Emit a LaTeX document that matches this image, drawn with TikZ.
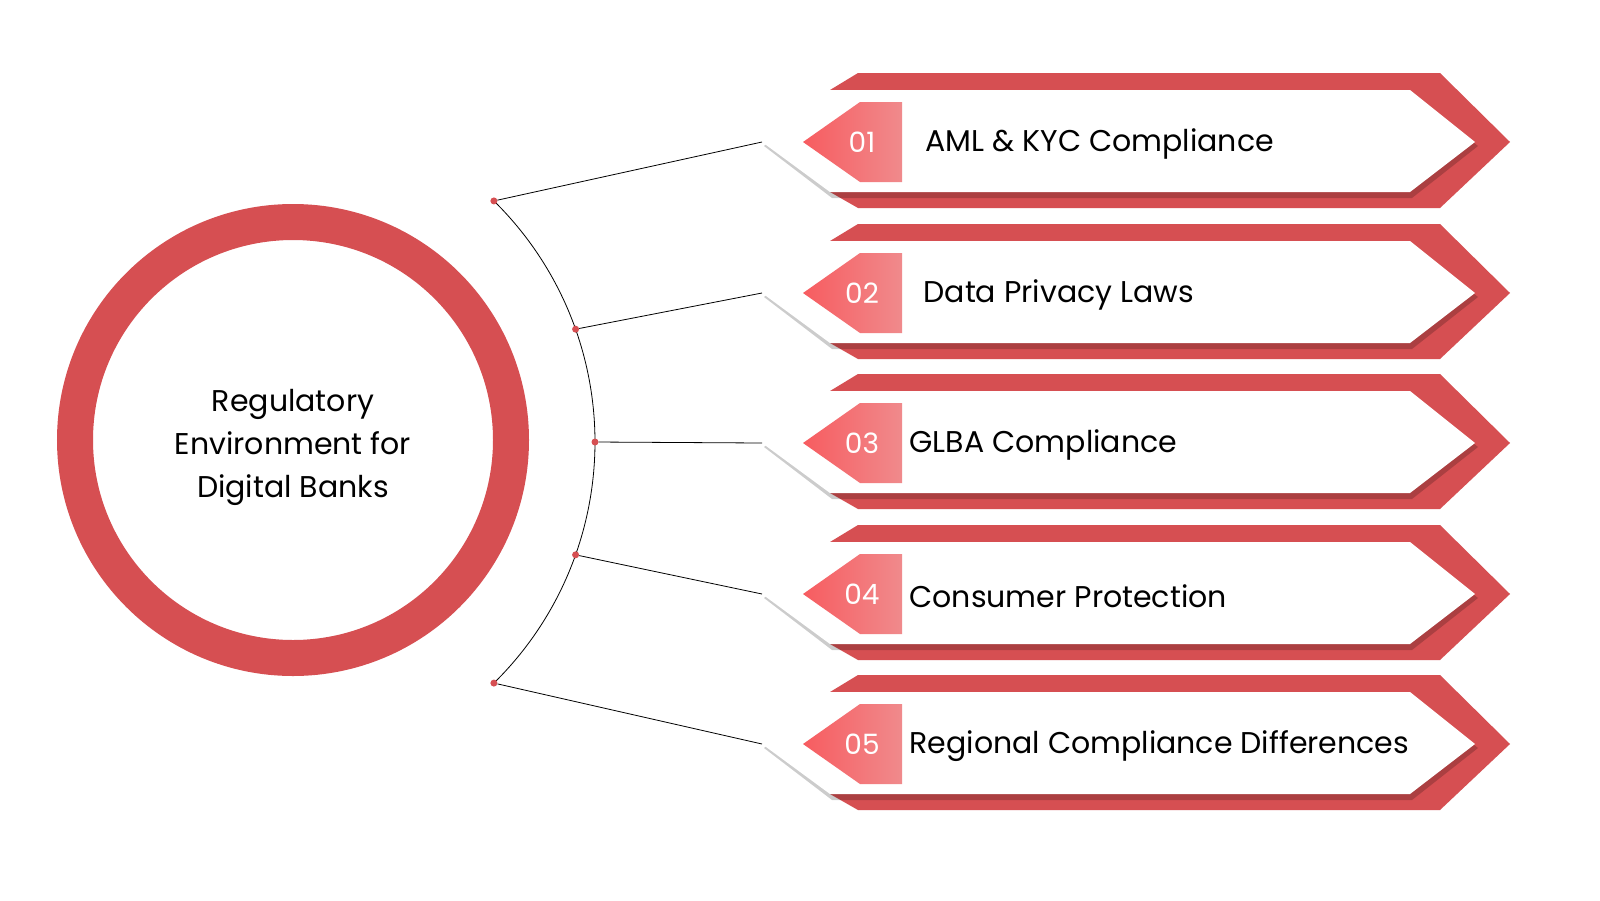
\documentclass[tikz,border=0pt]{standalone}
\usepackage{fontspec}
\setmainfont{Poppins}
\usetikzlibrary{positioning,calc}
\definecolor{ringred}{HTML}{D64F52}
\definecolor{tagred}{HTML}{F75C60}
\definecolor{taglight}{HTML}{F08A8C}
\begin{document}
\begin{tikzpicture}[x=1pt,y=-1pt]

	\tikzstyle{dot}=[circle,fill=ringred,inner sep=0pt,minimum size=7pt]
	\tikzstyle{label}=[anchor=west,font=\fontsize{30}{34}\selectfont,text=black]
	\tikzstyle{num}=[font=\fontsize{28}{32}\selectfont,text=white]

	\useasboundingbox[fill=white] (0,0) rectangle (1600,900);

	% ring with title
	\draw[ringred,line width=36pt] (293,440) circle (218);
	\node[align=center,font=\fontsize{30}{43}\selectfont] (title) at (293,447)
		{Regulatory\\Environment for\\Digital Banks};

	% arc through the dots
	\draw[black,line width=0.8pt] (257,442) ++(45.5:338) arc (45.5:-45.5:338);

	\foreach \i/\y/\a/\txt/\tx in {1/142/-45.5/AML \& KYC Compliance/928,
			2/293/-19.5/Data Privacy Laws/926,
			3/443/0/GLBA Compliance/912,
			4/594/19.5/Consumer Protection/912,
			5/744/45.5/Regional Compliance Differences/912} {
		% red back plate
		\fill[ringred] (858,\y-69) -- (1440,\y-69) -- (1510,\y) -- (1440,\y+66)
			-- (858,\y+66) -- (830,\y+50) -- (830,\y-52) -- cycle;
		% shadow and white front plate
		\fill[black,opacity=0.2] (764,\y+4) -- (832,\y-48) -- (1412,\y-48) -- (1478,\y+4)
			-- (1412,\y+56) -- (832,\y+56) -- cycle;
		\fill[white]
			(762,\y) -- (830,\y-52) -- (1410,\y-52) -- (1475,\y)
			-- (1410,\y+50) -- (830,\y+50) -- cycle;
		% number tag
		\shade[left color=tagred,right color=taglight]
			(803,\y) -- (860,\y-40) -- (902,\y-40) -- (902,\y+40) -- (860,\y+40) -- cycle;
		\node[num] (n\i) at (862,\y) {0\i};
		\node[label] (t\i) at (\tx-6,\y+2) {\txt};
		\coordinate (p\i) at (762,\y);
		\node[dot] (d\i) at ($(257,442)+(\a:338)$) {};
		\draw[black,line width=0.8pt] (d\i) -- (p\i);
	}

\end{tikzpicture}
\end{document}
